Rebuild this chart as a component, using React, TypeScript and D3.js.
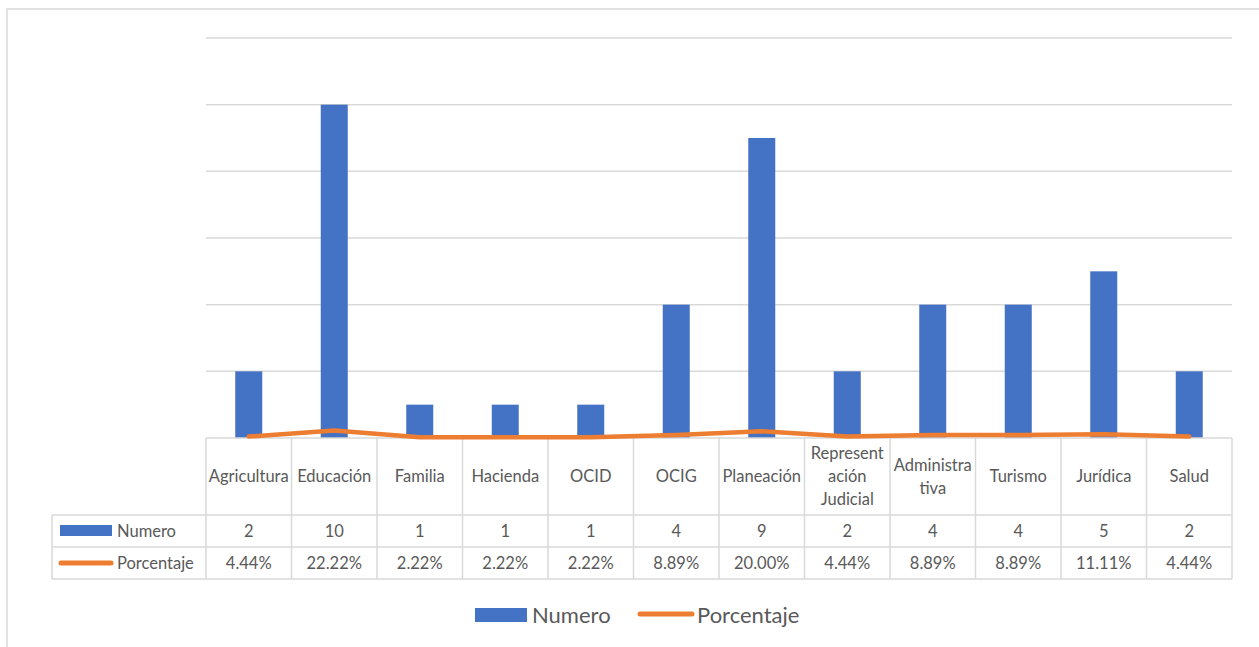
import React from "react";
import * as d3 from "d3";

const categories = [
  "Agricultura", "Educación", "Familia", "Hacienda", "OCID", "OCIG",
  "Planeación", "Representación Judicial", "Administrativa", "Turismo", "Jurídica", "Salud",
];
const categoryLines = [
  ["Agricultura"], ["Educación"], ["Familia"], ["Hacienda"], ["OCID"], ["OCIG"],
  ["Planeación"], ["Represent", "ación", "Judicial"], ["Administra", "tiva"], ["Turismo"], ["Jurídica"], ["Salud"],
];
const numero = [2, 10, 1, 1, 1, 4, 9, 2, 4, 4, 5, 2];
const porcentaje = [0.0444, 0.2222, 0.0222, 0.0222, 0.0222, 0.0889, 0.2, 0.0444, 0.0889, 0.0889, 0.1111, 0.0444];
const yTicks = [0, 2, 4, 6, 8, 10, 12];

const W = 1259;
const H = 647;
const plotLeft = 206;
const plotRight = 1232;
const plotTop = 38;
const plotBottom = 438;
const tableLeft = 52;
const headerBottom = 515;
const row1Bottom = 547;
const row2Bottom = 579;

const BLUE = "#4472C4";
const ORANGE = "#ED7D31";
const GRID = "#D9D9D9";
const TEXT = "#595959";
const FONT = "Lato, 'Open Sans', sans-serif";
const TFS = 16.5;

export default function App() {
  const x = d3.scaleBand<string>().domain(categories).range([plotLeft, plotRight]).paddingInner(0).paddingOuter(0);
  const y = d3.scaleLinear().domain([0, 12]).range([plotBottom, plotTop]);
  const bw = x.bandwidth();
  const barW = 27;
  const line = d3
    .line<number>()
    .x((_, i) => (x(categories[i]) as number) + bw / 2)
    .y((d) => y(d))
    .curve(d3.curveLinear);

  const fmtPct = (v: number) => (v * 100).toFixed(2) + "%";

  return (
    <svg
      width={W}
      height={H}
      style={{ position: "absolute", left: 0, top: 0, background: "#fff" }}
      fontFamily={FONT}
    >
      {/* chart border */}
      <rect x={7} y={9} width={W + 20} height={H + 20} fill="none" stroke={GRID} strokeWidth={1.5} />

      {/* gridlines */}
      {yTicks.slice(1).map((t) => (
        <line key={t} x1={plotLeft} x2={plotRight} y1={y(t)} y2={y(t)} stroke={GRID} strokeWidth={1.5} />
      ))}

      {/* bars */}
      {categories.map((c, i) => (
        <rect
          key={c}
          x={(x(c) as number) + bw / 2 - barW / 2}
          y={y(numero[i])}
          width={barW}
          height={plotBottom - y(numero[i])}
          fill={BLUE}
        />
      ))}

      {/* data table */}
      <g stroke={GRID} strokeWidth={1.5} fill="none">
        <line x1={plotLeft} x2={plotRight} y1={plotBottom} y2={plotBottom} />
        <line x1={tableLeft} x2={plotRight} y1={headerBottom} y2={headerBottom} />
        <line x1={tableLeft} x2={plotRight} y1={row1Bottom} y2={row1Bottom} />
        <line x1={tableLeft} x2={plotRight} y1={row2Bottom} y2={row2Bottom} />
        <line x1={tableLeft} x2={tableLeft} y1={headerBottom} y2={row2Bottom} />
        {categories.map((c) => (
          <line key={c} x1={x(c) as number} x2={x(c) as number} y1={plotBottom} y2={row2Bottom} />
        ))}
        <line x1={plotRight} x2={plotRight} y1={plotBottom} y2={row2Bottom} />
      </g>

      {/* header labels */}
      {categories.map((c, i) => {
        const lines = categoryLines[i];
        const cx = (x(c) as number) + bw / 2;
        const cy = (plotBottom + headerBottom) / 2;
        const lh = 23;
        const start = cy - ((lines.length - 1) * lh) / 2;
        return (
          <text key={c} x={cx} textAnchor="middle" fontSize={TFS} fill={TEXT}>
            {lines.map((l, j) => (
              <tspan key={j} x={cx} y={start + j * lh} dy="0.35em">
                {l}
              </tspan>
            ))}
          </text>
        );
      })}

      {/* row values */}
      {categories.map((c, i) => {
        const cx = (x(c) as number) + bw / 2;
        return (
          <g key={c} fontSize={TFS} fill={TEXT} textAnchor="middle">
            <text x={cx} y={(headerBottom + row1Bottom) / 2} dy="0.35em">
              {numero[i]}
            </text>
            <text x={cx} y={(row1Bottom + row2Bottom) / 2} dy="0.35em">
              {fmtPct(porcentaje[i])}
            </text>
          </g>
        );
      })}

      {/* row legend keys */}
      <rect x={60} y={525} width={52} height={11} fill={BLUE} />
      <text x={117} y={(headerBottom + row1Bottom) / 2} dy="0.35em" fontSize={TFS} fill={TEXT}>
        Numero
      </text>
      <line x1={61} x2={111} y1={563} y2={563} stroke={ORANGE} strokeWidth={5} strokeLinecap="round" />
      <text x={117} y={(row1Bottom + row2Bottom) / 2} dy="0.35em" fontSize={TFS} fill={TEXT}>
        Porcentaje
      </text>

      {/* percentage line */}
      <path
        d={line(porcentaje) || ""}
        fill="none"
        stroke={ORANGE}
        strokeWidth={4.5}
        strokeLinecap="round"
        strokeLinejoin="round"
      />

      {/* bottom legend */}
      <rect x={475} y={608} width={52} height={14} fill={BLUE} />
      <text x={532} y={615} dy="0.35em" fontSize={22} fill={TEXT}>
        Numero
      </text>
      <line x1={640} x2={692} y1={614} y2={614} stroke={ORANGE} strokeWidth={5} strokeLinecap="round" />
      <text x={697} y={615} dy="0.35em" fontSize={22} fill={TEXT}>
        Porcentaje
      </text>
    </svg>
  );
}
